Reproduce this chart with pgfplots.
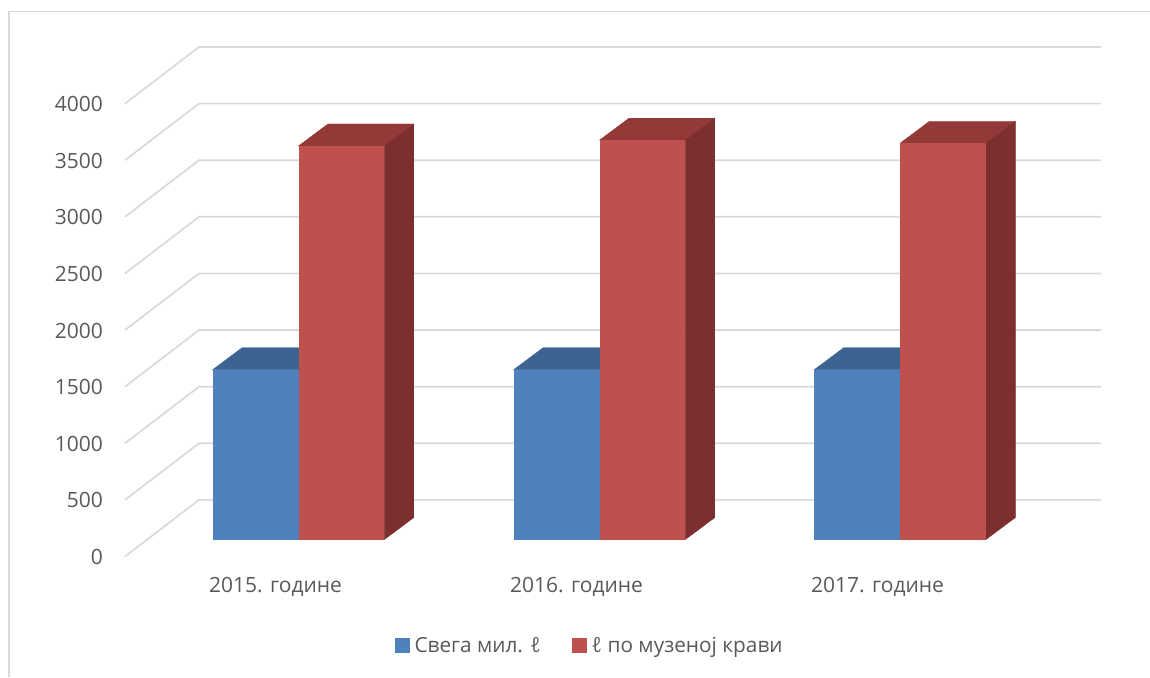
\documentclass[border=0pt]{standalone}
\usepackage{pgfplots}
\pgfplotsset{compat=1.18}
\usepackage{fontspec}
\setmainfont{Open Sans}
\definecolor{gridgrey}{HTML}{D9D9D9}
\definecolor{labelgrey}{HTML}{595959}
\definecolor{blueFront}{HTML}{4F81BD}
\definecolor{blueTop}{HTML}{3C6391}
\definecolor{blueSide}{HTML}{335780}
\definecolor{redFront}{HTML}{C0504D}
\definecolor{redTop}{HTML}{933A38}
\definecolor{redSide}{HTML}{7C2F2E}

% Oblique projection: one unit of depth moves a point this far in x and y.
\pgfmathsetmacro{\depthX}{74/301}
\pgfmathsetmacro{\depthY}{500}
\def\barBase{150}   % floor height of the front face
\def\barW{0.2851}   % bar width in category units
\def\sideX{0.0977}  % extent of the bar's depth in x
\def\sideY{194}     % extent of the bar's depth in y

% One wall line: value, then along the side wall and the back wall.
\newcommand{\wallline}[1]{%
  \pgfmathsetmacro{\backv}{#1+\depthY}%
  \edef\temp{\noexpand\addplot[gridgrey,line width=1.7pt,forget plot]
    coordinates {(0,#1) (\depthX,\backv) (3.2425,\backv)};}\temp}

% A cuboid bar: left edge of the front face, value, three face colours.
\newcommand{\cuboid}[5]{%
  \pgfmathsetmacro{\xa}{#1}%
  \pgfmathsetmacro{\xb}{#1+\barW}%
  \pgfmathsetmacro{\xc}{\xa+\sideX}%
  \pgfmathsetmacro{\xd}{\xb+\sideX}%
  \pgfmathsetmacro{\ya}{\barBase}%
  \pgfmathsetmacro{\yb}{#2+\barBase}%
  \pgfmathsetmacro{\yc}{\ya+\sideY}%
  \pgfmathsetmacro{\yd}{\yb+\sideY}%
  \edef\temp{\noexpand\addplot[fill=#4,draw=#4,line width=0.4pt,forget plot]
    coordinates {(\xa,\yb) (\xc,\yd) (\xd,\yd) (\xb,\yb)} -- cycle;
    \noexpand\addplot[fill=#5,draw=#5,line width=0.4pt,forget plot]
    coordinates {(\xb,\ya) (\xd,\yc) (\xd,\yd) (\xb,\yb)} -- cycle;
    \noexpand\addplot[fill=#3,draw=none,forget plot]
    coordinates {(\xa,\ya) (\xb,\ya) (\xb,\yb) (\xa,\yb)} -- cycle;}\temp}

\begin{document}
\begin{tikzpicture}[x=1pt,y=1pt]
\path[use as bounding box] (0,0) rectangle (1150,-677);
% Chart area outline, open towards the lower right
\draw[gridgrey,line width=1.2pt] (9,-677) -- (9,-11.5) -- (1150,-11.5);
\begin{axis}[
  at={(125pt,-556.5pt)}, anchor=south west,
  scale only axis, width=976pt, height=509.5pt,
  xmin=0, xmax=3.2425, ymin=0, ymax=4500,
  clip=false,
  axis line style={draw=none},
  tick style={draw=none},
  major tick length=0pt,
  axis x line*=bottom, axis y line*=left,
  ytick={0,500,...,4000},
  xtick={0.5,1.5,2.5},
  xticklabels={2015. године,2016. године,2017. године},
  /pgf/number format/assume math mode=true,
  /pgf/number format/fixed,
  /pgf/number format/1000 sep={},
  ticklabel style={font=\fontsize{21}{25}\selectfont,text=labelgrey},
  yticklabel style={anchor=east,xshift=-18.5pt,yshift=-0.5pt},
  xticklabel style={anchor=center,yshift=-30pt},
  legend style={
    at={(270pt,-89pt)}, anchor=west, draw=none, fill=none,
    font=\fontsize{20.8}{25}\selectfont, text=labelgrey,
    legend columns=2, inner sep=0pt,
    /tikz/every odd column/.append style={column sep=3pt},
    /tikz/every even column/.append style={column sep=29pt}
  },
  legend cell align=left,
  legend image code/.code={\fill[#1] (0pt,-7pt) rectangle (14pt,7pt);},
]
\wallline{0}\wallline{500}\wallline{1000}\wallline{1500}\wallline{2000}
\wallline{2500}\wallline{3000}\wallline{3500}\wallline{4000}

\cuboid{0.2914}{1500}{blueFront}{blueTop}{blueSide}
\cuboid{0.5765}{3476}{redFront}{redTop}{redSide}
\cuboid{1.2914}{1500}{blueFront}{blueTop}{blueSide}
\cuboid{1.5765}{3527}{redFront}{redTop}{redSide}
\cuboid{2.2900}{1500}{blueFront}{blueTop}{blueSide}
\cuboid{2.5751}{3500}{redFront}{redTop}{redSide}

\addlegendimage{blueFront}
\addlegendentry{Свега мил. ℓ}
\addlegendimage{redFront}
\addlegendentry{ℓ по музеној крави}
\end{axis}
\end{tikzpicture}
\end{document}
